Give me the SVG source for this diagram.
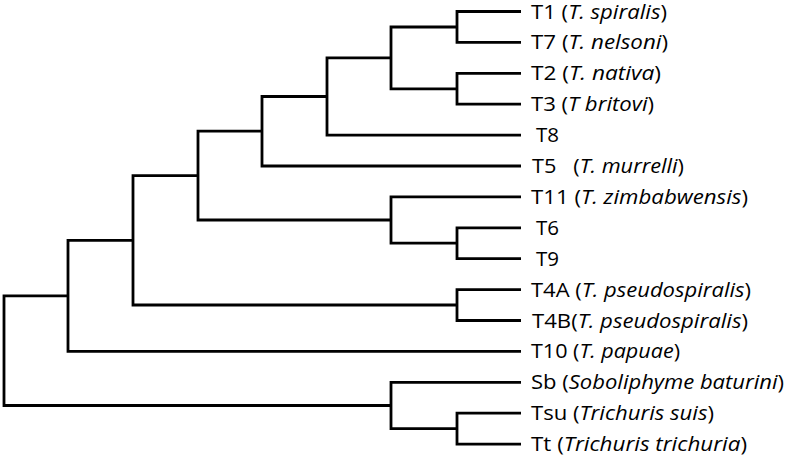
<svg xmlns="http://www.w3.org/2000/svg" width="787" height="458" viewBox="0 0 787 458">
<style>
.e{fill:none;stroke:#000;stroke-width:2.8;stroke-linejoin:miter;stroke-linecap:butt}
text{font-family:"Open Sans","Noto Sans",sans-serif;font-size:20.5px;fill:#000}
.i{font-style:italic}
</style>
<rect width="787" height="458" fill="#fff"/>
<g id="connectors">
<path class="e" d="M521 11.5H457V42.4H521"/>
<path class="e" d="M521 73.3H457V104.2H521"/>
<path class="e" d="M457 27H391V88.8H457"/>
<path class="e" d="M391 57.9H327V135.1H521"/>
<path class="e" d="M327 96.5H262V166H521"/>
<path class="e" d="M521 227.8H457V258.7H521"/>
<path class="e" d="M521 196.9H391V243.2H457"/>
<path class="e" d="M262 131.2H198V220H391"/>
<path class="e" d="M521 289.6H457V320.5H521"/>
<path class="e" d="M198 175.6H133V305H457"/>
<path class="e" d="M133 240.3H68V351.4H521"/>
<path class="e" d="M521 413.2H457V444.1H521"/>
<path class="e" d="M521 382.3H391V428.6H457"/>
<path class="e" d="M68 295.9H4V405.5H391"/>
</g>
<g id="T1"><text x="531" y="18.5" textLength="136" lengthAdjust="spacingAndGlyphs">T1 (<tspan class="i">T. spiralis</tspan>)</text></g>
<g id="T7"><text x="531" y="49.4" textLength="137" lengthAdjust="spacingAndGlyphs">T7 (<tspan class="i">T. nelsoni</tspan>)</text></g>
<g id="T2"><text x="531" y="80.3" textLength="130" lengthAdjust="spacingAndGlyphs">T2 (<tspan class="i">T. nativa</tspan>)</text></g>
<g id="T3"><text x="531" y="111.2" textLength="123" lengthAdjust="spacingAndGlyphs">T3 (<tspan class="i">T britovi</tspan>)</text></g>
<g id="T8"><text x="536" y="142.1">T8</text></g>
<g id="T5"><text x="532" y="173" xml:space="preserve" textLength="152" lengthAdjust="spacingAndGlyphs">T5   (<tspan class="i">T. murrelli</tspan>)</text></g>
<g id="T11"><text x="531" y="203.9" textLength="217" lengthAdjust="spacingAndGlyphs">T11 (<tspan class="i">T. zimbabwensis</tspan>)</text></g>
<g id="T6"><text x="536" y="234.8">T6</text></g>
<g id="T9"><text x="536" y="265.7">T9</text></g>
<g id="T4A"><text x="531" y="296.6" textLength="220" lengthAdjust="spacingAndGlyphs">T4A (<tspan class="i">T. pseudospiralis</tspan>)</text></g>
<g id="T4B"><text x="532" y="327.5" textLength="216" lengthAdjust="spacingAndGlyphs">T4B(<tspan class="i">T. pseudospiralis</tspan>)</text></g>
<g id="T10"><text x="531" y="358.4" textLength="149" lengthAdjust="spacingAndGlyphs">T10 (<tspan class="i">T. papuae</tspan>)</text></g>
<g id="Sb"><text x="531" y="389.3" textLength="253" lengthAdjust="spacingAndGlyphs">Sb (<tspan class="i">Soboliphyme baturini</tspan>)</text></g>
<g id="Tsu"><text x="531" y="420.2" textLength="183" lengthAdjust="spacingAndGlyphs">Tsu (<tspan class="i">Trichuris suis</tspan>)</text></g>
<g id="Tt"><text x="531" y="451.1" textLength="216" lengthAdjust="spacingAndGlyphs">Tt (<tspan class="i">Trichuris trichuria</tspan>)</text></g>
</svg>
